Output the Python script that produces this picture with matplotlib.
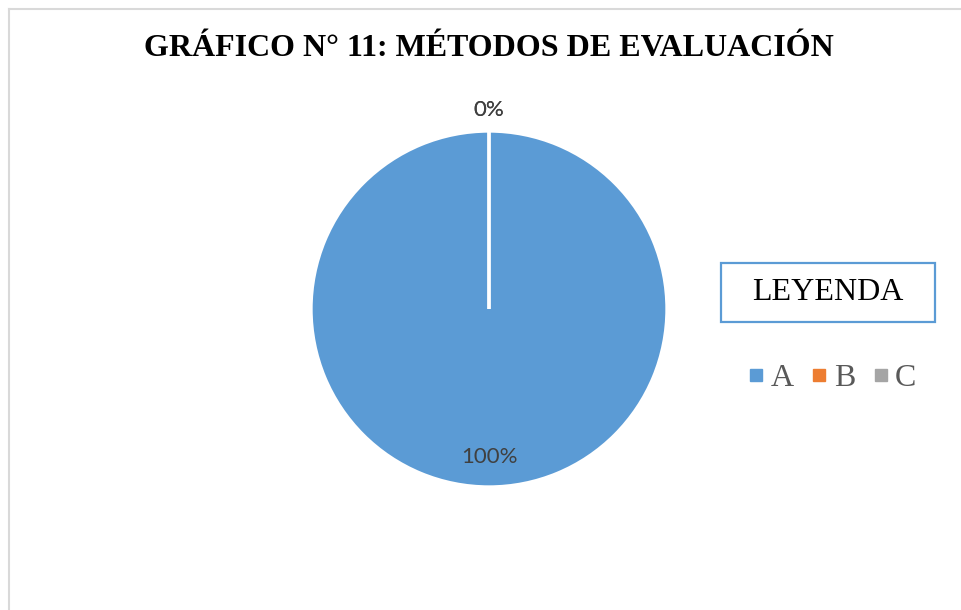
import numpy as np
import matplotlib
matplotlib.use("Agg")
import matplotlib.pyplot as plt
from matplotlib.lines import Line2D
from matplotlib.patches import Rectangle

categorias = ["A", "B", "C"]
valores = [100, 0, 0]
colores = ["#5B9BD5", "#ED7D31", "#A5A5A5"]
titulo = "GRÁFICO N° 11: MÉTODOS DE EVALUACIÓN"

W, H = 961, 610
fig = plt.figure(figsize=(W / 100, H / 100), dpi=100)

# chart area border (only left and top visible)
fig.add_artist(Line2D([9 / W, 9 / W], [0, 1 - 9 / H], transform=fig.transFigure,
                      color="#D9D9D9", lw=1.5))
fig.add_artist(Line2D([9 / W, 1], [1 - 9 / H, 1 - 9 / H], transform=fig.transFigure,
                      color="#D9D9D9", lw=1.5))

fig.text(489 / W, 1 - 49 / H, titulo, ha="center", va="center",
         family="Liberation Serif", weight="bold", fontsize=23, color="black")

# pie axes: center (489, 309), radius 178 px
ax = fig.add_axes([311 / W, 1 - 487 / H, 356 / W, 356 / H])
wedges, _ = ax.pie(valores, colors=colores, startangle=90, counterclock=False,
                   radius=1, wedgeprops=dict(edgecolor="white", linewidth=2.4))
ax.set_xlim(-1, 1)
ax.set_ylim(-1, 1)
ax.axis("off")

total = sum(valores)
for w, v in zip(wedges, valores):
    ang = np.deg2rad((w.theta1 + w.theta2) / 2)
    r = 0.83 if v > 0 else 1.12
    ax.text(r * np.cos(ang), r * np.sin(ang), f"{v / total * 100:.0f}%",
            ha="center", va="center", family="Lato", fontsize=16,
            color="#404040", clip_on=False)

# legend title box
fig.add_artist(Rectangle((721 / W, 1 - 322 / H), 214 / W, 59 / H,
                         transform=fig.transFigure, fill=False,
                         edgecolor="#5B9BD5", lw=1.6))
fig.text(828 / W, 1 - 292 / H, "LEYENDA", ha="center", va="center",
         family="Liberation Serif", fontsize=23, color="black")

handles = [Line2D([], [], marker="s", ls="none", color=c, markersize=9)
           for c in colores]
leg = fig.legend(handles, categorias, loc="center",
                 bbox_to_anchor=(833 / W, 1 - 378 / H), ncol=3, frameon=False,
                 handlelength=0.4, handletextpad=0.25, columnspacing=0.6,
                 prop=dict(family="Liberation Serif", size=23))
for t in leg.get_texts():
    t.set_color("#595959")

fig.savefig("out.png", dpi=100)
